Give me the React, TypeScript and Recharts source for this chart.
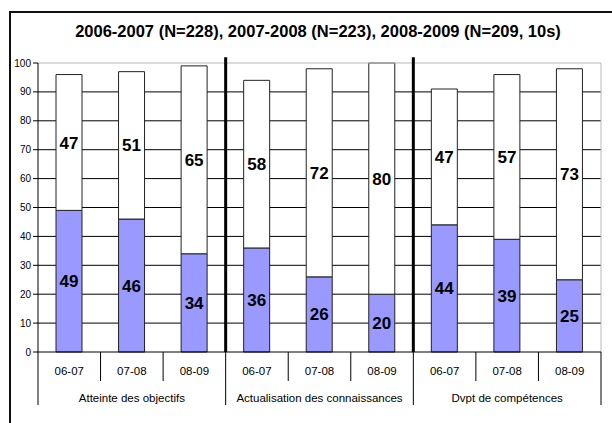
import { BarChart, Bar, XAxis, YAxis, CartesianGrid, LabelList, ReferenceLine } from 'recharts';

const groups = ['Atteinte des objectifs', 'Actualisation des connaissances', 'Dvpt de compétences'];
const years = ['06-07', '07-08', '08-09'];
const lowerValues = [49, 46, 34, 36, 26, 20, 44, 39, 25];
const upperValues = [47, 51, 65, 58, 72, 80, 47, 57, 73];
const yTicks = [0, 10, 20, 30, 40, 50, 60, 70, 80, 90, 100];
const gridValues = [10, 20, 30, 40, 50, 60, 70, 80, 90];

const data = groups.flatMap((g, gi) =>
  years.map((y, yi) => ({
    id: g + ' ' + y,
    group: g,
    year: y,
    low: lowerValues[gi * 3 + yi],
    high: upperValues[gi * 3 + yi],
  }))
);

const font = '"Liberation Sans", Arial, sans-serif';
const BAND = 563 / 9;

const CategoryTick = (props: any) => {
  const { x, y, index } = props;
  const d = data[index];
  const left = x - BAND / 2;
  const right = x + BAND / 2;
  const groupStart = index % 3 === 0;
  const last = index === data.length - 1;
  return (
    <g>
      <line x1={left} x2={left} y1={y} y2={groupStart ? y + 53 : y + 29} stroke="#000" />
      {last && <line x1={right} x2={right} y1={y} y2={y + 53} stroke="#000" />}
      <text x={x} y={y + 23} textAnchor="middle" fontSize={11.5} fontFamily={font} fill="#000">
        {d.year}
      </text>
      {index % 3 === 1 && (
        <text x={x} y={y + 50} textAnchor="middle" fontSize={11.5} fontFamily={font} fill="#000">
          {d.group}
        </text>
      )}
    </g>
  );
};

export default function App() {
  return (
    <div style={{ position: 'relative', width: 612, height: 423, overflow: 'hidden', background: '#fff' }}>
      <style>{'body{margin:0}'}</style>
      <div
        style={{
          position: 'absolute',
          left: 9,
          top: 11,
          width: 800,
          height: 600,
          borderLeft: '2px solid #111',
          borderTop: '2px solid #111',
        }}
      />
      <div
        style={{
          position: 'absolute',
          left: 24,
          top: 21,
          width: 588,
          textAlign: 'center',
          fontFamily: font,
          fontWeight: 'bold',
          fontSize: 16.5,
          lineHeight: '20px',
          color: '#000',
        }}
      >
        2006-2007 (N=228), 2007-2008 (N=223), 2008-2009 (N=209, 10s)
      </div>
      <div style={{ position: 'absolute', left: 0, top: 0 }}>
        <BarChart width={612} height={423} data={data} margin={{ top: 63, right: 11, left: 0, bottom: 8 }}>
          <CartesianGrid vertical={false} horizontalValues={gridValues} stroke="#000" />
          <XAxis
            dataKey="id"
            height={63}
            tickSize={0}
            tickMargin={0}
            tickLine={false}
            interval={0}
            axisLine={{ stroke: '#000' }}
            tick={<CategoryTick />}
          />
          <YAxis
            width={38}
            domain={[0, 100]}
            ticks={yTicks}
            interval={0}
            tickSize={5}
            tickMargin={2}
            axisLine={{ stroke: '#000' }}
            tickLine={{ stroke: '#000' }}
            tick={{ fontSize: 10, fontFamily: font, fill: '#000' }}
          />
          <ReferenceLine y={100} stroke="#b8b8b8" />
          <ReferenceLine x={data[8].id} position="end" stroke="#b8b8b8" />
          <Bar dataKey="low" stackId="s" fill="#9999FF" stroke="#222" barSize={26} isAnimationActive={false}>
            <LabelList dataKey="low" position="center" fontSize={17} fontWeight="bold" fontFamily={font} fill="#000" />
          </Bar>
          <Bar dataKey="high" stackId="s" fill="#fff" stroke="#222" barSize={26} isAnimationActive={false}>
            <LabelList dataKey="high" position="center" fontSize={17} fontWeight="bold" fontFamily={font} fill="#000" />
          </Bar>
          <ReferenceLine
            segment={[{ x: data[3].id, y: 0 }, { x: data[3].id, y: 102 }]}
            position="start"
            ifOverflow="visible"
            stroke="#000"
            strokeWidth={3}
          />
          <ReferenceLine
            segment={[{ x: data[6].id, y: 0 }, { x: data[6].id, y: 102 }]}
            position="start"
            ifOverflow="visible"
            stroke="#000"
            strokeWidth={3}
          />
        </BarChart>
      </div>
    </div>
  );
}
